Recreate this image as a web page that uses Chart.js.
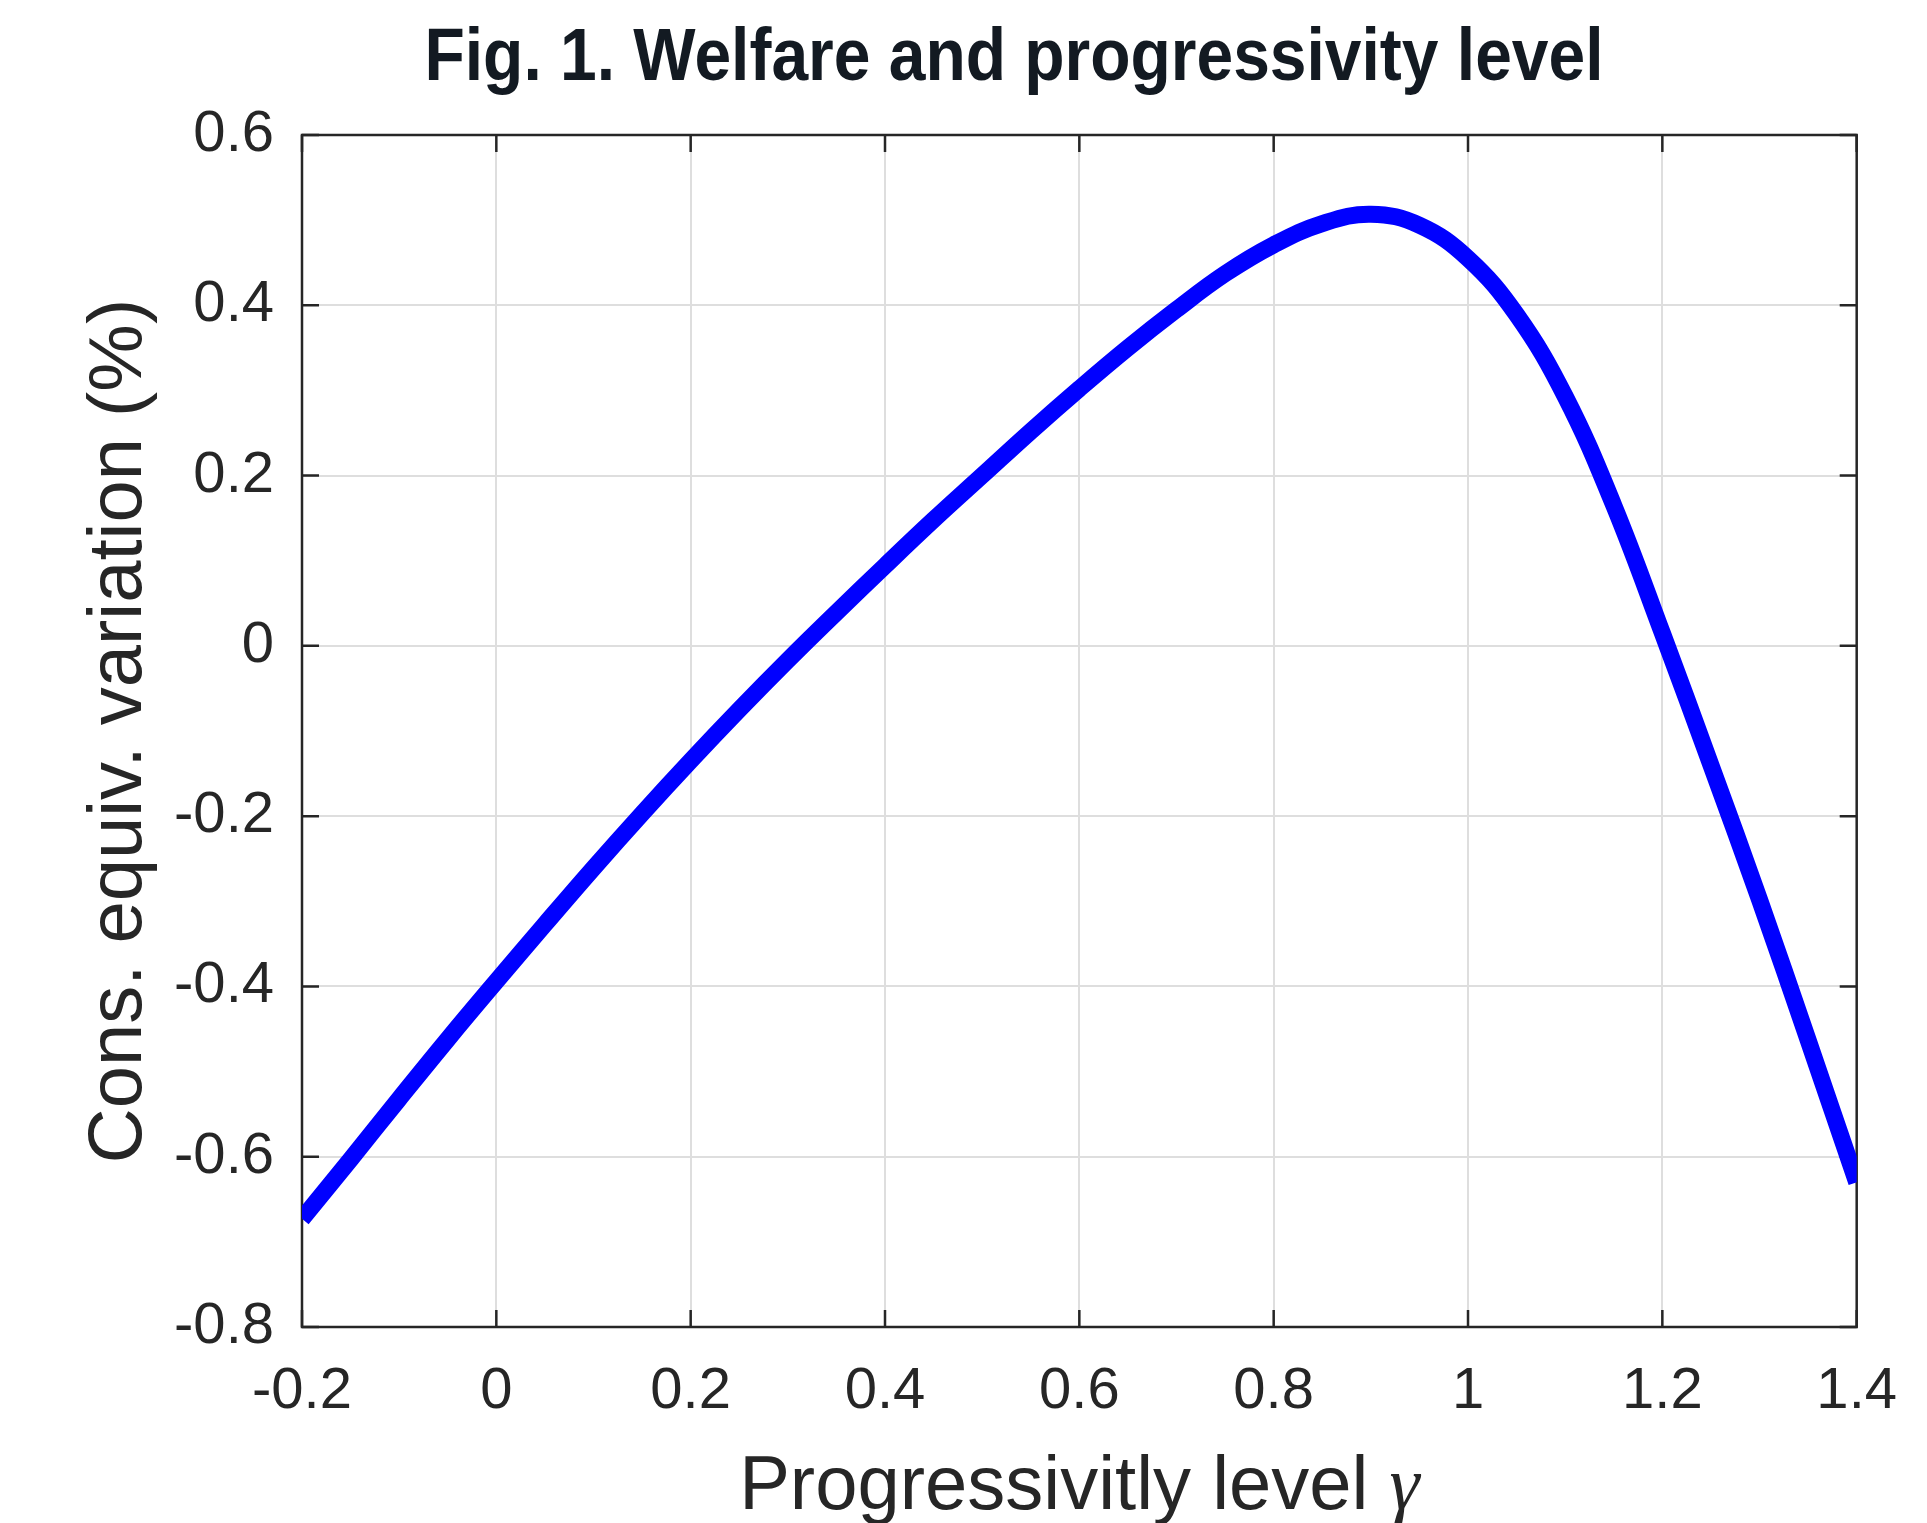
<!DOCTYPE html>
<html>
<head>
<meta charset="utf-8">
<title>Fig. 1. Welfare and progressivity level</title>
<script src="https://cdn.jsdelivr.net/npm/chart.js@4.4.1/dist/chart.umd.min.js"></script>
<style>
  html, body { margin: 0; padding: 0; background: #ffffff; }
  #wrap { width: 1927px; height: 1523px; }
</style>
</head>
<body>
<div id="wrap"><canvas id="chart" width="1927" height="1523"></canvas></div>
<script>
// progressivity level (gamma) and consumption equivalent variation (%)
const gammaValues = [-0.2, -0.15, -0.1, -0.05, 0, 0.05, 0.1, 0.15, 0.2, 0.25, 0.3, 0.35, 0.4, 0.45, 0.5, 0.55,
    0.6, 0.65, 0.7, 0.75, 0.8, 0.85, 0.9, 0.95, 1.0, 1.05, 1.1, 1.15, 1.2, 1.25, 1.3, 1.35, 1.4];
const welfareValues = [-0.673, -0.603, -0.532, -0.462, -0.394, -0.327, -0.261, -0.197, -0.135, -0.075, -0.017, 0.039, 0.094, 0.148, 0.200, 0.252,
    0.302, 0.350, 0.395, 0.437, 0.471, 0.496, 0.507, 0.494, 0.455, 0.389, 0.293, 0.165, 0.015, -0.140, -0.298, -0.463, -0.63];

const xTicks = [-0.2, 0, 0.2, 0.4, 0.6, 0.8, 1, 1.2, 1.4];
const xTickLabels = ['-0.2', '0', '0.2', '0.4', '0.6', '0.8', '1', '1.2', '1.4'];
const yTicks = [-0.8, -0.6, -0.4, -0.2, 0, 0.2, 0.4, 0.6];
const yTickLabels = ['-0.8', '-0.6', '-0.4', '-0.2', '0', '0.2', '0.4', '0.6'];

const titleText = 'Fig. 1. Welfare and progressivity level';
const xTitle = 'Progressivitly level ';
const xTitleSymbol = 'γ';
const yTitle = 'Cons. equiv. variation (%)';

const AXIS_COLOR = '#262626';
const GRID_COLOR = '#dedede';

Chart.defaults.font.family = '"Liberation Sans", Arial, sans-serif';
Chart.defaults.color = AXIS_COLOR;

// figure title, squeezed to the width of the original condensed face
const figTitle = {
    id: 'figTitle',
    afterDraw(chart, args, opts) {
        const ctx = chart.ctx;
        ctx.save();
        ctx.font = 'bold ' + opts.size + 'px ' + opts.family;
        ctx.fillStyle = opts.color;
        ctx.textAlign = 'center';
        ctx.textBaseline = 'alphabetic';
        const w = ctx.measureText(opts.text).width;
        ctx.translate(opts.x, opts.y);
        ctx.scale(opts.width / w, 1);
        ctx.fillText(opts.text, 0, 0);
        ctx.restore();
    }
};

// x axis label: sans text followed by an italic serif gamma (as in LaTeX)
const xLabel = {
    id: 'xLabel',
    afterDraw(chart, args, opts) {
        const ctx = chart.ctx;
        const a = chart.chartArea;
        ctx.save();
        ctx.fillStyle = AXIS_COLOR;
        ctx.textBaseline = 'alphabetic';
        ctx.textAlign = 'left';
        const sansFont = opts.size + 'px "Liberation Sans", Arial, sans-serif';
        const serifFont = 'italic ' + opts.size + 'px "Liberation Serif", "DejaVu Serif", serif';
        ctx.font = sansFont;
        const w1 = ctx.measureText(opts.text).width;
        ctx.font = serifFont;
        const w2 = ctx.measureText(opts.symbol).width;
        const x0 = (a.left + a.right) / 2 - (w1 + w2) / 2;
        ctx.font = sansFont;
        ctx.fillText(opts.text, x0, opts.y);
        ctx.font = serifFont;
        ctx.fillText(opts.symbol, x0 + w1, opts.y);
        ctx.restore();
    }
};

// box around the axes and inward tick marks on all four sides
const boxTicks = {
    id: 'boxTicks',
    beforeDatasetsDraw(chart, args, opts) {
        const { ctx, chartArea: a, scales } = chart;
        const len = opts.length;
        ctx.save();
        ctx.strokeStyle = opts.color;
        ctx.lineWidth = opts.width;
        ctx.beginPath();
        xTicks.forEach(v => {
            const px = scales.x.getPixelForValue(v);
            ctx.moveTo(px, a.bottom); ctx.lineTo(px, a.bottom - len);
            ctx.moveTo(px, a.top); ctx.lineTo(px, a.top + len);
        });
        yTicks.forEach(v => {
            const py = scales.y.getPixelForValue(v);
            ctx.moveTo(a.left, py); ctx.lineTo(a.left + len, py);
            ctx.moveTo(a.right, py); ctx.lineTo(a.right - len, py);
        });
        ctx.stroke();
        ctx.strokeRect(a.left, a.top, a.right - a.left, a.bottom - a.top);
        ctx.restore();
    }
};

const ctx = document.getElementById('chart').getContext('2d');
new Chart(ctx, {
    type: 'line',
    data: {
        datasets: [{
            data: gammaValues.map((g, i) => ({ x: g, y: welfareValues[i] })),
            borderColor: '#0000ff',
            borderWidth: 17,
            pointRadius: 0,
            tension: 0.4,
            fill: false
        }]
    },
    options: {
        responsive: false,
        animation: false,
        devicePixelRatio: 1,
        layout: { padding: { top: 135, right: 70, bottom: 0, left: 0 } },
        plugins: {
            legend: { display: false },
            tooltip: { enabled: false },
            figTitle: {
                text: titleText,
                size: 74,
                family: '"Liberation Sans Narrow", "Liberation Sans", sans-serif',
                color: '#131a22',
                x: 1014,
                y: 80,
                width: 1179
            },
            xLabel: { text: xTitle, symbol: xTitleSymbol, size: 76, y: 1509 },
            boxTicks: { length: 17, width: 2.5, color: AXIS_COLOR }
        },
        scales: {
            x: {
                type: 'linear',
                min: -0.2,
                max: 1.4,
                afterBuildTicks: axis => { axis.ticks = xTicks.map(v => ({ value: v })); },
                afterFit: scale => { scale.height = 196; },
                grid: { color: GRID_COLOR, lineWidth: 2, drawTicks: false },
                border: { display: false },
                ticks: {
                    font: { size: 58 },
                    color: AXIS_COLOR,
                    padding: 30,
                    maxRotation: 0,
                    autoSkip: false,
                    callback: (v, i) => xTickLabels[i]
                },
                title: { display: false }
            },
            y: {
                type: 'linear',
                min: -0.8,
                max: 0.6,
                afterBuildTicks: axis => { axis.ticks = yTicks.map(v => ({ value: v })); },
                afterFit: scale => { scale.width = 302; },
                grid: { color: GRID_COLOR, lineWidth: 2, drawTicks: false },
                border: { display: false },
                ticks: {
                    font: { size: 58 },
                    color: AXIS_COLOR,
                    padding: 28,
                    autoSkip: false,
                    callback: (v, i) => yTickLabels[i]
                },
                title: {
                    display: true,
                    text: yTitle,
                    font: { size: 76, lineHeight: 1 },
                    color: AXIS_COLOR,
                    padding: { top: 82, bottom: 0 }
                }
            }
        }
    },
    plugins: [figTitle, xLabel, boxTicks]
});
</script>
</body>
</html>
